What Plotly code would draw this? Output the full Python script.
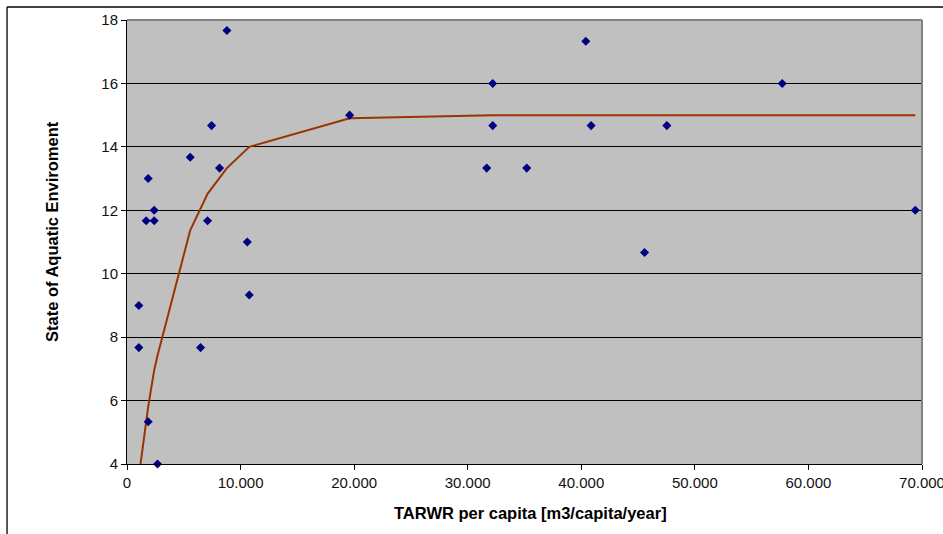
import plotly.graph_objects as go

# Observed values: renewable water resources per capita vs. aquatic environment score
tarwr = [8795, 7445, 5566, 8150, 1865, 2394, 1689, 2394, 7093, 10590,
         1042, 1042, 6476, 10766, 1865, 2687, 19604, 32203, 32203, 40396,
         40866, 31674, 35198, 57692, 47533, 69410, 45568]
state = [17.67, 14.67, 13.67, 13.33, 13.0, 12.0, 11.67, 11.67, 11.67, 11.0,
         9.0, 7.67, 7.67, 9.33, 5.33, 4.0, 15.0, 16.0, 14.67, 17.33,
         14.67, 13.33, 13.33, 16.0, 14.67, 12.0, 10.67]

# Fitted response curve
curve_x = [1160, 1689, 1865, 2394, 2687, 5566, 7093, 8795, 10766, 19604, 32203, 69410]
curve_y = [3.92, 5.40, 5.80, 6.96, 7.42, 11.37, 12.52, 13.33, 14.0, 14.9, 15.0, 15.0]

x_ticks = [0, 10000, 20000, 30000, 40000, 50000, 60000, 70000]
x_labels = ["0", "10.000", "20.000", "30.000", "40.000", "50.000", "60.000", "70.000"]
y_ticks = [4, 6, 8, 10, 12, 14, 16, 18]

FONT = "Arial, 'Liberation Sans', sans-serif"

fig = go.Figure()
fig.add_trace(go.Scatter(
    x=curve_x, y=curve_y, mode="lines",
    line=dict(color="#993300", width=2),
    hoverinfo="skip", showlegend=False,
))
fig.add_trace(go.Scatter(
    x=tarwr, y=state, mode="markers",
    marker=dict(symbol="diamond", size=7, color="#000080",
                line=dict(width=0)),
    cliponaxis=False, showlegend=False,
))

fig.update_layout(
    width=943, height=534,
    margin=dict(l=127, r=21, t=20, b=70, autoexpand=False),
    paper_bgcolor="white",
    plot_bgcolor="#C0C0C0",
    font=dict(family=FONT, size=15, color="black"),
    xaxis=dict(
        range=[0, 70000], tickvals=x_ticks, ticktext=x_labels,
        showgrid=False, zeroline=False, automargin=False,
        showline=True, linecolor="black", linewidth=1,
        ticks="outside", ticklen=5, tickcolor="black",
        ticklabeloverflow="allow",
        tickfont=dict(family=FONT, size=15, color="#111"),
    ),
    yaxis=dict(
        range=[4, 18], tickvals=y_ticks, automargin=False,
        showgrid=True, gridcolor="black", gridwidth=1,
        zeroline=False,
        showline=True, linecolor="black", linewidth=1,
        ticks="outside", ticklen=5, tickcolor="black",
        tickfont=dict(family=FONT, size=15, color="#111"),
    ),
    annotations=[
        dict(text="<b>TARWR per capita [m3/capita/year]</b>",
             xref="paper", yref="paper", x=0.507, y=-0.110,
             xanchor="center", yanchor="middle", showarrow=False,
             font=dict(family=FONT, size=16.5)),
        dict(text="<b>State of Aquatic Enviroment</b>",
             xref="paper", yref="paper", x=-0.0943, y=0.5225,
             xanchor="center", yanchor="middle", showarrow=False,
             textangle=-90, font=dict(family=FONT, size=16.5)),
    ],
    shapes=[
        # plot area border (top and right)
        dict(type="line", xref="paper", yref="paper", x0=0, x1=1, y0=1, y1=1,
             line=dict(color="#808080", width=2), layer="above"),
        dict(type="line", xref="paper", yref="paper", x0=1, x1=1, y0=0, y1=1,
             line=dict(color="#808080", width=2), layer="above"),
        # chart frame
        dict(type="line", xref="paper", yref="paper", x0=-0.1509, x1=1.1,
             y0=1.0293, y1=1.0293, line=dict(color="black", width=1.3)),
        dict(type="line", xref="paper", yref="paper", x0=-0.1509, x1=-0.1509,
             y0=-0.2, y1=1.0293, line=dict(color="black", width=1.3)),
    ],
)

fig.write_html("out.html")
